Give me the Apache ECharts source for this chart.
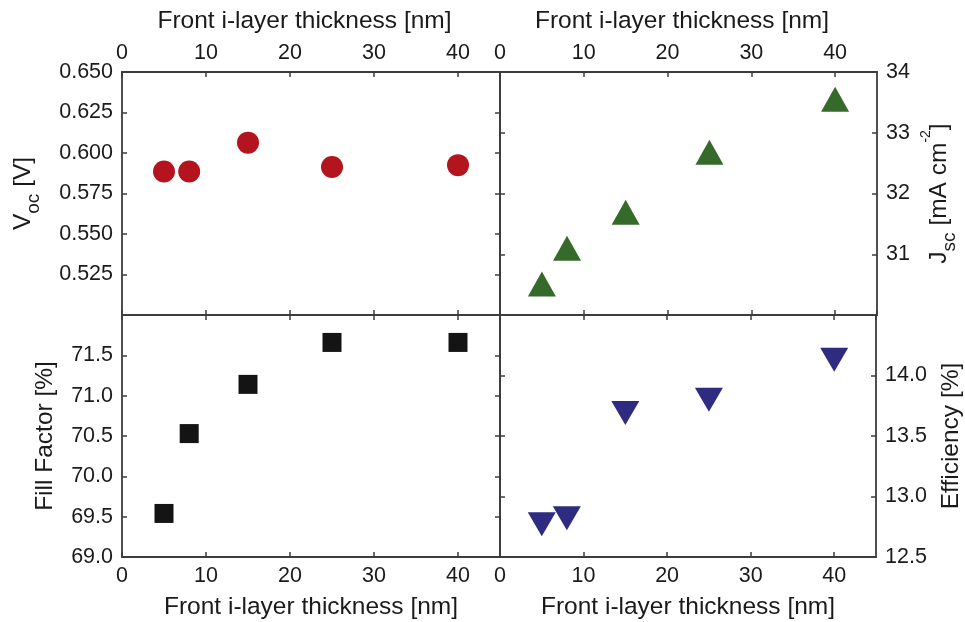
<!DOCTYPE html>
<html>
<head>
<meta charset="utf-8">
<script src="https://cdn.jsdelivr.net/npm/echarts@6/dist/echarts.min.js"></script>
<style>
  html, body { margin: 0; padding: 0; background: #fff; }
  #chart { width: 965px; height: 622px; }
</style>
</head>
<body>
<div id="chart"></div>
<script>
// ---- data ----
const thickness = [5, 8, 15, 25, 40];
const voc = [0.5886, 0.5886, 0.6064, 0.5913, 0.5925];
const jsc = [30.51, 31.10, 31.69, 32.68, 33.55];
const fillFactor = [69.54, 70.53, 71.14, 71.66, 71.66];
const efficiency = [12.77, 12.82, 13.69, 13.80, 14.13];

const xTitle = 'Front i-layer thickness [nm]';

// ---- styling ----
const FONT = 'Liberation Sans, Arial, Helvetica, sans-serif';
const TXT = '#1a1a1a';
const LINE = '#3c3c3c';
const tickStyle = { show: true, inside: true, length: 5, lineStyle: { color: LINE, width: 1.5 } };
const lineStyle = { show: true, onZero: false, lineStyle: { color: LINE, width: 1.8 } };
const labelBase = { color: TXT, fontSize: 21.5, fontFamily: FONT };
const TITLE_SIZE = 24.5;

const pairs = (ys) => thickness.map((x, i) => [x, ys[i]]);

const grids = [
  { left: 122, top: 72, width: 378, height: 243 },
  { left: 500, top: 72, width: 377, height: 243 },
  { left: 122, top: 315, width: 378, height: 242 },
  { left: 500, top: 315, width: 377, height: 242 }
];

function xAxes(gi, labelPos, nameGap, namePad) {
  const other = labelPos === 'top' ? 'bottom' : 'top';
  return [
    {
      type: 'value', gridIndex: gi, position: labelPos, min: 0, max: 45, interval: 10,
      axisLine: lineStyle, axisTick: tickStyle, splitLine: { show: false },
      axisLabel: Object.assign({ margin: 8, showMaxLabel: false }, labelBase),
      name: xTitle, nameLocation: 'middle', nameGap: nameGap,
      nameTextStyle: { color: TXT, fontSize: TITLE_SIZE, fontFamily: FONT, padding: namePad }
    },
    {
      type: 'value', gridIndex: gi, position: other, min: 0, max: 45, interval: 10,
      axisLine: lineStyle, axisTick: tickStyle, splitLine: { show: false },
      axisLabel: { show: false }
    }
  ];
}

function yAxes(gi, labelPos, min, max, interval, fmt, hideMin, hideMax, name, nameGap, rich) {
  const other = labelPos === 'left' ? 'right' : 'left';
  return [
    {
      type: 'value', gridIndex: gi, position: labelPos, min: min, max: max, interval: interval,
      axisLine: lineStyle, axisTick: tickStyle, splitLine: { show: false },
      axisLabel: Object.assign({ margin: 9, formatter: fmt, showMinLabel: !hideMin, showMaxLabel: !hideMax }, labelBase),
      name: name, nameLocation: 'middle', nameGap: nameGap, nameRotate: 90,
      nameTextStyle: Object.assign({ color: TXT, fontSize: TITLE_SIZE, fontFamily: FONT }, rich ? { rich: rich } : {})
    },
    {
      type: 'value', gridIndex: gi, position: other, min: min, max: max, interval: interval,
      axisLine: lineStyle, axisTick: tickStyle, splitLine: { show: false },
      axisLabel: { show: false }
    }
  ];
}

const richSub = {
  a: { fontSize: TITLE_SIZE, lineHeight: 40, color: TXT, fontFamily: FONT },
  s: { fontSize: 19, lineHeight: 18, verticalAlign: 'bottom', color: TXT, fontFamily: FONT },
  p: { fontSize: 14, lineHeight: 25, verticalAlign: 'top', color: TXT, fontFamily: FONT }
};

const xAxis = [].concat(
  xAxes(0, 'top', 38, [0, 13, 0, 0]),
  xAxes(1, 'top', 38, [0, 13, 0, 0]),
  xAxes(2, 'bottom', 38, [0, 0, 0, 0]),
  xAxes(3, 'bottom', 38, [0, 0, 0, 0])
);

const yAxis = [].concat(
  yAxes(0, 'left', 0.5, 0.65, 0.025, v => v.toFixed(3), true, false,
        '{a|V}{s|oc}{a| [V]}', 79, richSub),
  yAxes(1, 'right', 30, 34, 1, v => String(Math.round(v)), true, false,
        '{a|J}{s|sc}{a| [mA cm}{p|-2}{a|]}', 42, richSub),
  yAxes(2, 'left', 69, 72, 0.5, v => v.toFixed(1), false, true,
        'Fill Factor [%]', 64, null),
  yAxes(3, 'right', 12.5, 14.5, 0.5, v => v.toFixed(1), false, true,
        'Efficiency [%]', 63, null)
);

const option = {
  backgroundColor: '#ffffff',
  animation: false,
  textStyle: { fontFamily: FONT },
  grid: grids,
  xAxis: xAxis,
  yAxis: yAxis,
  series: [
    {
      type: 'scatter', xAxisIndex: 0, yAxisIndex: 0, data: pairs(voc),
      symbol: 'circle', symbolSize: 22,
      itemStyle: { color: '#b3141d', opacity: 1 }
    },
    {
      type: 'scatter', xAxisIndex: 2, yAxisIndex: 2, data: pairs(jsc),
      symbol: 'triangle', symbolSize: [28, 25],
      itemStyle: { color: '#356a2b', opacity: 1 }
    },
    {
      type: 'scatter', xAxisIndex: 4, yAxisIndex: 4, data: pairs(fillFactor),
      symbol: 'rect', symbolSize: 19,
      itemStyle: { color: '#141414', opacity: 1 }
    },
    {
      type: 'scatter', xAxisIndex: 6, yAxisIndex: 6, data: pairs(efficiency),
      symbol: 'triangle', symbolRotate: 180, symbolSize: [28, 24],
      itemStyle: { color: '#2f2b80', opacity: 1 }
    }
  ]
};

const chart = echarts.init(document.getElementById('chart'), null, { renderer: 'canvas' });
chart.setOption(option);
</script>
</body>
</html>
